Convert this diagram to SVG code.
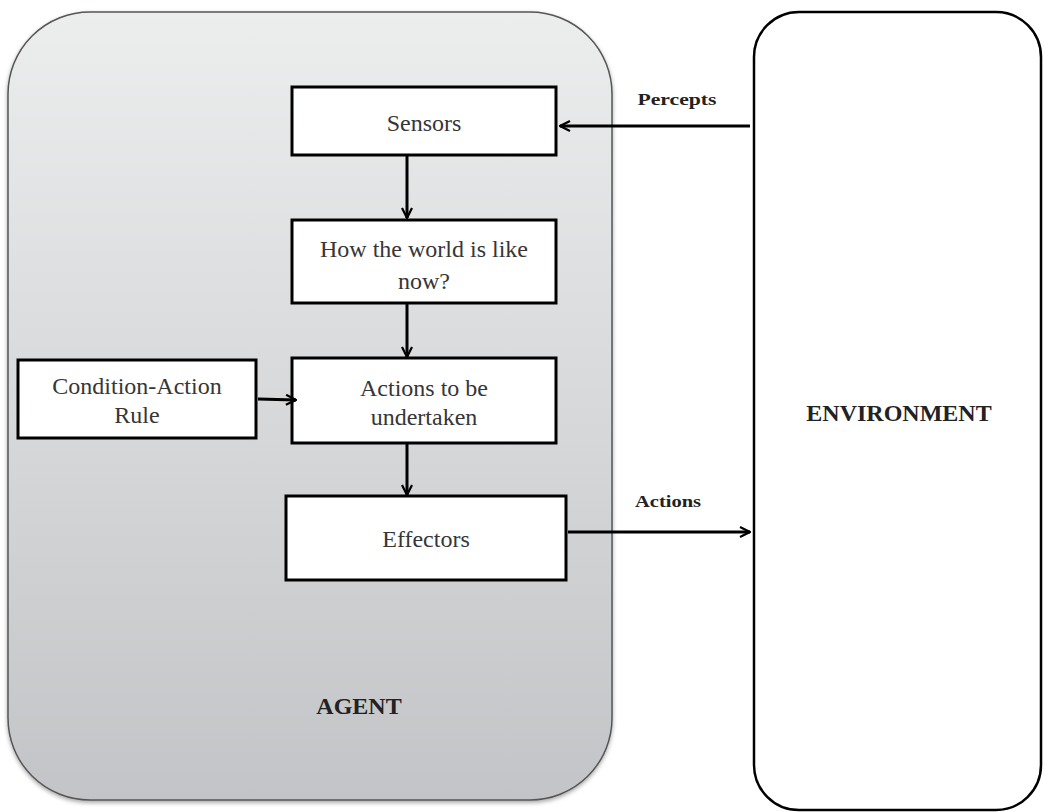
<svg xmlns="http://www.w3.org/2000/svg" width="1044" height="812" viewBox="0 0 1044 812">
<defs>
<linearGradient id="agentGrad" x1="0" y1="0" x2="0" y2="1">
<stop offset="0" stop-color="#eceded"/>
<stop offset="1" stop-color="#c3c4c7"/>
</linearGradient>
<filter id="shadow" x="-5%" y="-5%" width="110%" height="110%">
<feDropShadow dx="0" dy="2" stdDeviation="2" flood-color="#000" flood-opacity="0.35"/>
</filter>
<marker id="arrow" viewBox="0 0 12 12" refX="11" refY="6" markerWidth="12" markerHeight="12" markerUnits="userSpaceOnUse" orient="auto">
<path d="M1,1 L11,6 L1,11" fill="none" stroke="#000" stroke-width="2.2"/>
</marker>
</defs>
<style>
.box{fill:#fff;stroke:#000;stroke-width:3}
.lbl{font-family:"Liberation Serif","Times New Roman",serif;font-size:24px;fill:#363636;text-anchor:middle}
.bold{font-family:"Liberation Serif","Times New Roman",serif;font-weight:bold;fill:#222;text-anchor:middle}
.conn{stroke:#000;stroke-width:3;fill:none;marker-end:url(#arrow)}
</style>
<rect width="1044" height="812" fill="#fff"/>
<g id="agent">
<rect x="8" y="12" width="604" height="788" rx="82" ry="82" fill="url(#agentGrad)" stroke="#555" stroke-width="1.5" filter="url(#shadow)"/>
<text class="bold" x="359" y="714" font-size="24">AGENT</text>
</g>
<g id="environment">
<rect x="754" y="12" width="287" height="798" rx="45" ry="45" fill="#fff" stroke="#000" stroke-width="2.5"/>
<text class="bold" x="899" y="421" font-size="24">ENVIRONMENT</text>
</g>
<g id="sensors">
<rect class="box" x="292" y="87" width="264" height="68"/>
<text class="lbl" x="424" y="131">Sensors</text>
</g>
<g id="world">
<rect class="box" x="292" y="220" width="264" height="83"/>
<text class="lbl" x="424" y="257">How the world is like</text>
<text class="lbl" x="424" y="289">now?</text>
</g>
<g id="actions">
<rect class="box" x="292" y="358" width="264" height="85"/>
<text class="lbl" x="424" y="396">Actions to be</text>
<text class="lbl" x="424" y="425">undertaken</text>
</g>
<g id="rule">
<rect class="box" x="18" y="360" width="238" height="78"/>
<text class="lbl" x="137" y="394">Condition-Action</text>
<text class="lbl" x="137" y="423">Rule</text>
</g>
<g id="effectors">
<rect class="box" x="286" y="496" width="280" height="84"/>
<text class="lbl" x="426" y="547">Effectors</text>
</g>
<g id="connectors">
<line class="conn" x1="750" y1="126" x2="560" y2="126"/>
<line class="conn" x1="407" y1="155" x2="407" y2="218"/>
<line class="conn" x1="407" y1="303" x2="407" y2="357"/>
<line class="conn" x1="258" y1="399" x2="296" y2="400"/>
<line class="conn" x1="407" y1="443" x2="407" y2="495"/>
<line class="conn" x1="568" y1="532" x2="750" y2="532"/>
<text class="bold" x="677" y="105" font-size="17" textLength="79" lengthAdjust="spacingAndGlyphs">Percepts</text>
<text class="bold" x="668" y="507" font-size="17" textLength="66" lengthAdjust="spacingAndGlyphs">Actions</text>
</g>
</svg>
